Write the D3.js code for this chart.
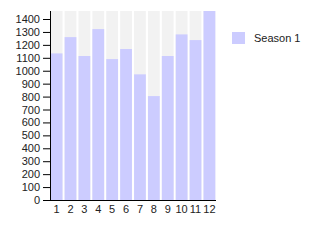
<!DOCTYPE html>
<html>
<head>
<meta charset="utf-8">
<script src="https://cdn.jsdelivr.net/npm/d3@7"></script>
<style>
	body { margin: 0; background: #fff; }
	text { font-family: "Liberation Sans", Arial, sans-serif; fill: #222; }
</style>
</head>
<body>
<svg id="chart" width="315" height="250"></svg>
<script>
// chart values
var categories = ["1", "2", "3", "4", "5", "6", "7", "8", "9", "10", "11", "12"];
var season1 = [1134, 1260, 1114, 1322, 1090, 1168, 972, 804, 1114, 1281, 1237, 1462];
var yTicks = [0, 100, 200, 300, 400, 500, 600, 700, 800, 900, 1000, 1100, 1200, 1300, 1400];
var seriesNames = ["Season 1"];

var margin = { left: 50, top: 11, right: 99, bottom: 50 };
var width = 315 - margin.left - margin.right,
	height = 250 - margin.top - margin.bottom;

var svg = d3.select("#chart");
var g = svg.append("g")
	.attr("transform", "translate(" + margin.left + "," + margin.top + ")");

var xScale = d3.scaleBand()
	.domain(categories)
	.range([0, width])
	.paddingInner(0.15)
	.paddingOuter(0.05);

var yScale = d3.scaleLinear()
	.domain([0, d3.max(season1)])
	.range([height, 0]);

// gray column backgrounds
g.selectAll(".bg")
	.data(categories)
	.enter()
	.append("rect")
		.attr("class", "bg")
		.attr("x", function(d) { return xScale(d); })
		.attr("y", 0)
		.attr("width", xScale.bandwidth())
		.attr("height", height)
		.style("fill", "#f2f2f2");

// bars
g.selectAll(".bar")
	.data(season1)
	.enter()
	.append("rect")
		.attr("class", "bar")
		.attr("x", function(d, i) { return xScale(categories[i]); })
		.attr("y", function(d) { return yScale(d); })
		.attr("width", xScale.bandwidth())
		.attr("height", function(d) { return height - yScale(d); })
		.style("fill", "#ccccff");

// axes
var yAxis = d3.axisLeft(yScale).tickValues(yTicks).tickFormat(d3.format("d"))
	.tickSize(7).tickPadding(3).tickSizeOuter(0);
var xAxis = d3.axisBottom(xScale).tickSize(0).tickPadding(5).tickSizeOuter(0);

var gy = g.append("g").attr("class", "y axis").call(yAxis);
gy.select(".domain").attr("d", "M0.5," + (height + 0.5) + "V0");

var gx = g.append("g").attr("class", "x axis")
	.attr("transform", "translate(0," + height + ")")
	.call(xAxis);
gx.select(".domain").attr("d", "M0," + 0.5 + "H" + width);

svg.selectAll(".axis text").style("font-size", "11px").style("fill", "#222");
svg.selectAll(".axis line, .axis path").style("stroke", "#000");

// legend
var legend = svg.append("g").attr("transform", "translate(232,32)");
legend.selectAll("rect")
	.data(seriesNames)
	.enter()
	.append("rect")
		.attr("width", 13)
		.attr("height", 12)
		.style("fill", "#ccccff");
legend.selectAll("text")
	.data(seriesNames)
	.enter()
	.append("text")
		.attr("x", 22)
		.attr("y", 10)
		.style("font-size", "11px")
		.text(function(d) { return d; });
</script>
</body>
</html>
